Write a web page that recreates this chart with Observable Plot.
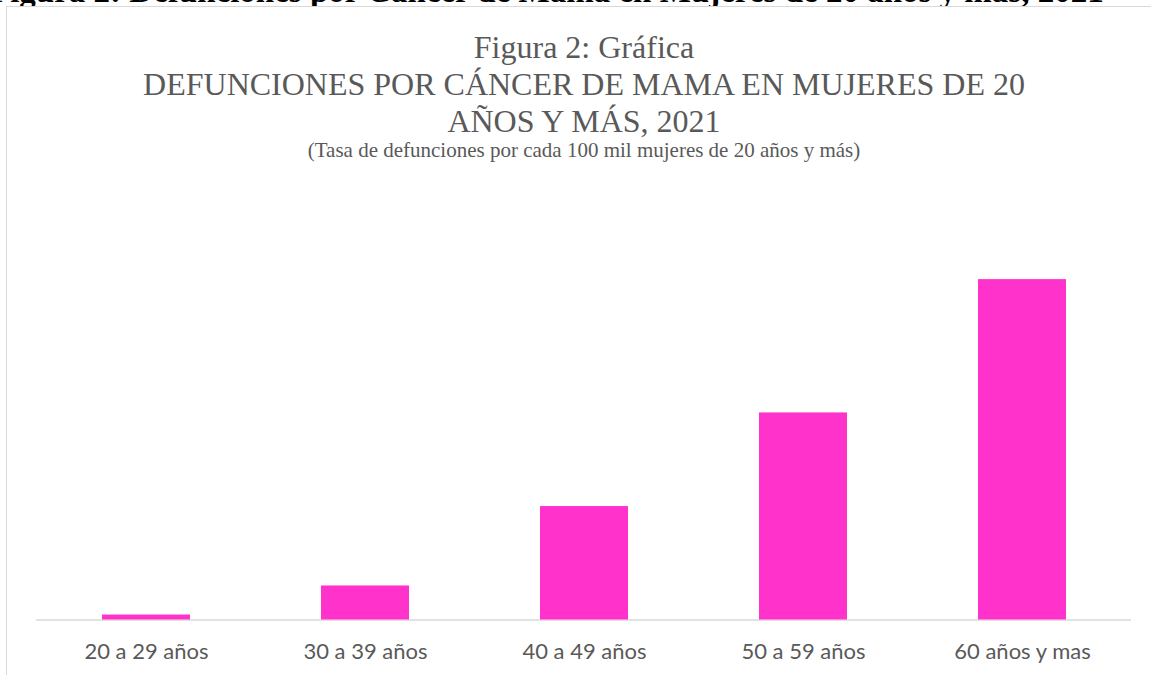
<!DOCTYPE html>
<html>
<head>
<meta charset="utf-8">
<script src="https://cdn.jsdelivr.net/npm/d3@7"></script>
<script src="https://cdn.jsdelivr.net/npm/@observablehq/plot@0.6"></script>
<style>
  html, body { margin: 0; padding: 0; background: #fff; }
  body { width: 1151px; height: 675px; overflow: hidden; position: relative; }
  #topcut { position: absolute; left: -10px; top: 0; width: 1200px; height: 7px; overflow: hidden; }
  #topcut div { position: absolute; left: 0; top: -25px; white-space: nowrap;
    font-family: "Liberation Serif", "Times New Roman", serif; font-weight: bold; font-size: 33px; line-height: 33px; color: #000; }
  #frame { position: absolute; left: 6px; top: 6px; width: 1200px; height: 720px; border: 1.5px solid #d9d9d9; box-sizing: border-box; }
  .t { position: absolute; left: 0; width: 1168px; text-align: center; white-space: nowrap;
    font-family: "Liberation Serif", "Times New Roman", serif; color: #595959; }
  .big { font-size: 32px; line-height: 32px; }
  .sub { font-size: 21px; line-height: 21px; }
  #chart { position: absolute; left: 0; top: 0; }
</style>
</head>
<body>
<div id="topcut"><div>Figura 2: Defunciones por Cáncer de Mama en Mujeres de 20 años y más, 2021</div></div>
<div id="frame"></div>
<div class="t big" style="top:31px">Figura 2: Gráfica</div>
<div class="t big" style="top:68px">DEFUNCIONES POR CÁNCER DE MAMA EN MUJERES DE 20</div>
<div class="t big" style="top:105px">AÑOS Y MÁS, 2021</div>
<div class="t sub" style="top:140px">(Tasa de defunciones por cada 100 mil mujeres de 20 años y más)</div>
<div id="chart"></div>
<script>
const categories = ["20 a 29 años", "30 a 39 años", "40 a 49 años", "50 a 59 años", "60 años y mas"];
const rates = [0.7, 4.8, 16.0, 29.2, 48.0];
const data = categories.map((c, i) => ({grupo: c, tasa: rates[i]}));

const chart = Plot.plot({
  width: 1151,
  height: 675,
  marginTop: 194,
  marginBottom: 55.5,
  marginLeft: 36,
  marginRight: 20,
  style: {fontFamily: "Lato, 'Open Sans', sans-serif", fontSize: "22px", color: "#595959", background: "transparent", overflow: "visible"},
  x: {domain: categories, paddingInner: 0.6, paddingOuter: 0.3, label: null},
  y: {domain: [0, 60], axis: null},
  marks: [
    Plot.ruleY([0], {stroke: "#d9d9d9", strokeWidth: 1.5}),
    Plot.barY(data, {x: "grupo", y: "tasa", fill: "#ff33cc"}),
    Plot.axisX({tickSize: 0, tickPadding: 23, fontSize: 22, label: null})
  ]
});
document.getElementById("chart").appendChild(chart);
</script>
</body>
</html>
